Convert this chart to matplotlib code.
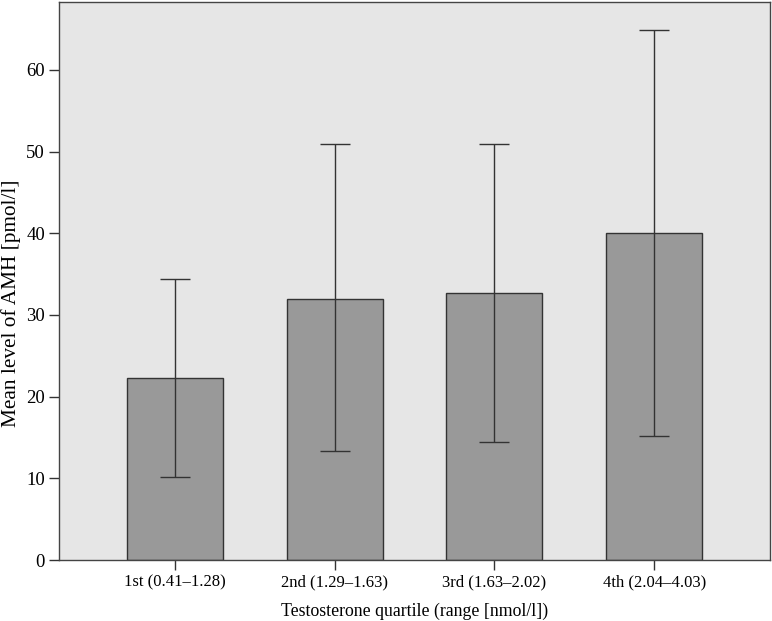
import numpy as np
import matplotlib
matplotlib.use("Agg")
import matplotlib.pyplot as plt

plt.rcParams['font.family'] = ['Liberation Serif', 'DejaVu Serif']

quartiles = ['1st (0.41\u20131.28)', '2nd (1.29\u20131.63)',
             '3rd (1.63\u20132.02)', '4th (2.04\u20134.03)']
mean_amh = [22.3, 32.0, 32.7, 40.0]
err_low = [10.2, 13.3, 14.4, 15.2]
err_high = [34.4, 50.9, 50.9, 64.9]

fig = plt.figure(figsize=(7.72, 6.21), dpi=100)
ax = fig.add_axes([0.0764, 0.0982, 0.921, 0.8986])
ax.set_facecolor('#e6e6e6')

x = np.arange(len(quartiles))
mean = np.array(mean_amh)
yerr = np.vstack([mean - np.array(err_low), np.array(err_high) - mean])

ax.bar(x, mean, width=0.6, color='#999999', edgecolor='#333333', linewidth=1.0, zorder=2)
ax.errorbar(x, mean, yerr=yerr, fmt='none', ecolor='#333333', elinewidth=1.0,
            capsize=11, capthick=1.0, zorder=3)

ax.set_xlim(-0.725, 3.725)
ax.set_ylim(0, 68.3)
ax.set_yticks([0, 10, 20, 30, 40, 50, 60])
ax.set_xticks(x)
ax.set_xticklabels(quartiles, fontsize=12)
ax.tick_params(axis='y', labelsize=13.5, length=7, width=1, color='#333333', pad=3)
ax.tick_params(axis='x', length=7, width=1, color='#333333', pad=3)

for s in ax.spines.values():
    s.set_color('#444444')
    s.set_linewidth(1.0)

ax.set_xlabel('Testosterone quartile (range [nmol/l])', fontsize=12.8, labelpad=9)
ax.set_ylabel('Mean level of AMH [pmol/l]', fontsize=15.3)
ax.yaxis.set_label_coords(-0.053, 0.46)

fig.savefig('out.png', dpi=100)
